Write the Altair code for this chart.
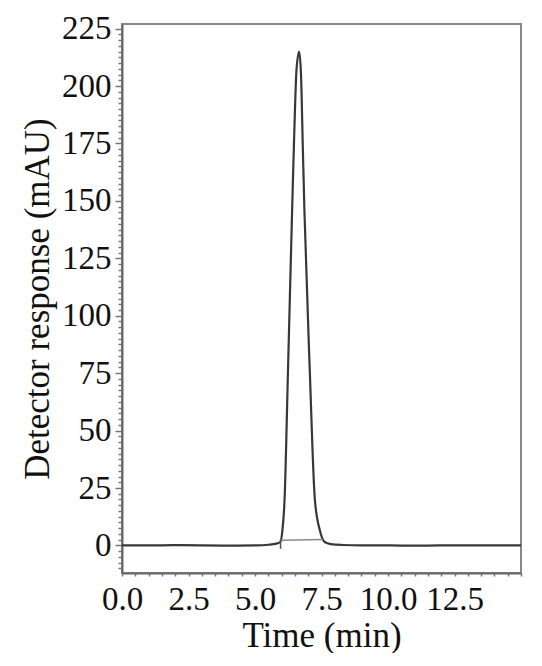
import altair as alt
import pandas as pd

# Chromatogram trace (time in min, response in mAU)
times = [0.0, 1.0, 2.0, 3.0, 4.0, 5.0, 5.5, 5.8, 5.95, 6.03, 6.11, 6.24, 6.40, 6.47,
         6.56, 6.66, 6.73, 6.80, 6.86, 7.06, 7.25, 7.44, 7.62, 7.85, 8.3,
         9.0, 10.0, 11.0, 12.0, 13.0, 14.0, 15.0]
values = [0.0, 0.0, 0.1, 0.0, -0.1, 0.0, 0.3, 0.8, 1.5, 6.5, 19.6, 76.0, 148.0, 177.0,
          207.0, 215.0, 205.0, 172.0, 145.0, 76.0, 20.0, 6.5, 1.5, 0.6, 0.2,
          0.0, 0.0, -0.1, 0.0, 0.0, 0.0, 0.0]

# Integration baseline drawn under the peak
base_times = [5.98, 7.55]
base_values = [2.3, 2.6]

# Peak start marker (short vertical stroke)
mark_time = [5.96]
mark_low = [-1.5]
mark_high = [2.5]

# Axis tick values
y_ticks = [i * 2.5 for i in range(-4, 91)]
x_ticks = [i * 0.5 for i in range(0, 31)]

trace = pd.DataFrame({"t": times, "v": values})
base = pd.DataFrame({"t": base_times, "v": base_values})
marker = pd.DataFrame({"t": mark_time, "lo": mark_low, "hi": mark_high})

font = "Liberation Serif, Times New Roman, serif"

xscale = alt.Scale(domain=[0, 15], nice=False, zero=False)
yscale = alt.Scale(domain=[-12, 227], nice=False, zero=False)

xaxis = alt.Axis(
    title="Time (min)",
    values=x_ticks,
    format=".1f",
    labelExpr="(datum.value % 2.5 === 0 && datum.value < 15) ? datum.label : ''",
    labelOverlap=False,
    labelFlush=False,
    tickSize=3,
    labelPadding=7,
    titlePadding=2,
    grid=False,
)
yaxis = alt.Axis(
    title="Detector response (mAU)",
    values=y_ticks,
    format="d",
    labelExpr="(datum.value % 25 === 0 && datum.value >= 0) ? datum.label : ''",
    labelOverlap=False,
    labelFlush=False,
    tickSize={"condition": {"test": "datum.value % 25 === 0", "value": 7}, "value": 4},
    labelPadding=4,
    titlePadding=6,
    grid=False,
)

line = alt.Chart(trace).mark_line(
    color="#383838", strokeWidth=2.2, interpolate="monotone"
).encode(
    x=alt.X("t:Q", scale=xscale, axis=xaxis),
    y=alt.Y("v:Q", scale=yscale, axis=yaxis),
)

bline = alt.Chart(base).mark_line(color="#8a8a8a", strokeWidth=1.5).encode(
    x=alt.X("t:Q", scale=xscale, axis=xaxis),
    y=alt.Y("v:Q", scale=yscale, axis=yaxis),
)

mrule = alt.Chart(marker).mark_rule(color="#555555", strokeWidth=1.5).encode(
    x=alt.X("t:Q", scale=xscale, axis=xaxis),
    y=alt.Y("lo:Q", scale=yscale, axis=yaxis),
    y2="hi:Q",
)

chart = alt.layer(line, bline, mrule).properties(
    width=399,
    height=549,
    autosize=alt.AutoSizeParams(type="none"),
    padding={"left": 114, "top": 16, "right": 10, "bottom": 80},
).configure_view(
    stroke="#888888", strokeWidth=2
).configure_axis(
    labelFont=font,
    titleFont=font,
    labelFontSize=33,
    titleFontSize=35,
    labelColor="#111111",
    titleColor="#111111",
    titleFontWeight="normal",
    domainColor="#666666",
    domainWidth=2,
    tickColor="#777777",
    tickWidth=1.5,
)

chart.save("out.html", embed_options={"renderer": "svg", "actions": False})
